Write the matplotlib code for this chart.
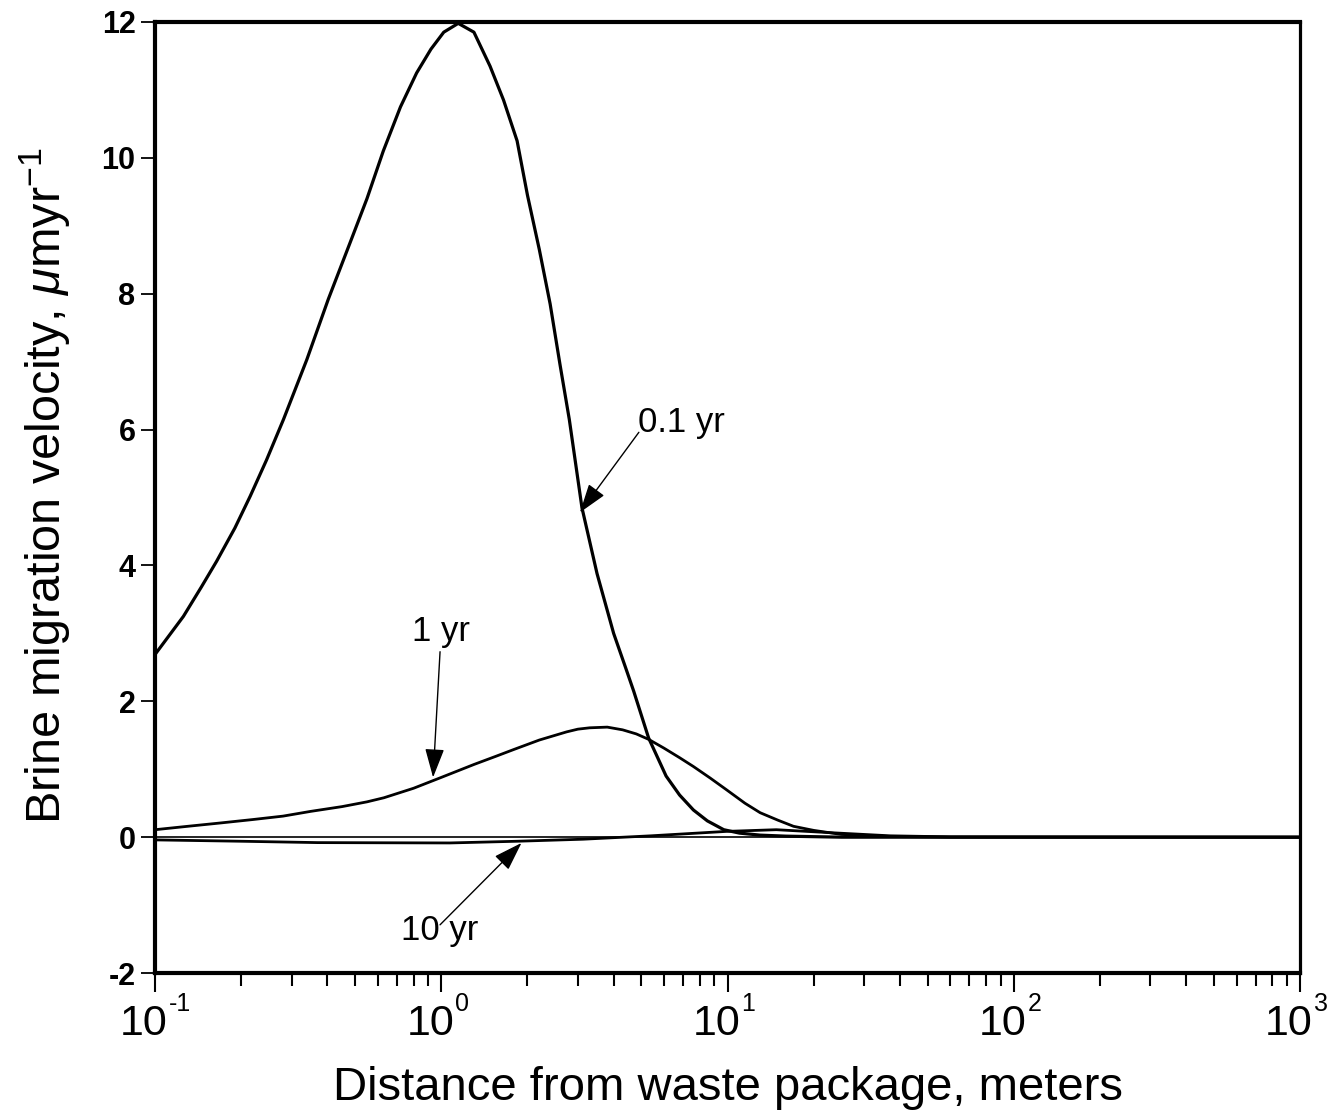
import matplotlib
matplotlib.use("Agg")
import matplotlib.pyplot as plt
from matplotlib.ticker import LogLocator, NullFormatter, FixedLocator

plt.rcParams["font.family"] = ["Liberation Sans", "DejaVu Sans"]
plt.rcParams["mathtext.fontset"] = "custom"
plt.rcParams["mathtext.rm"] = "Liberation Sans"
plt.rcParams["mathtext.it"] = "Liberation Sans:italic"

# distance (m) and brine migration velocity (um/yr)
x_01 = [0.1, 0.1256, 0.145, 0.164, 0.19, 0.215, 0.245, 0.281, 0.339, 0.403,
        0.48, 0.55, 0.627, 0.72, 0.82, 0.92, 1.02, 1.146, 1.3, 1.48, 1.65,
        1.84, 2.0, 2.2, 2.4, 2.6, 2.8, 3.1, 3.5, 4.0, 4.4, 4.7, 5.3, 6.1,
        6.8, 7.6, 8.5, 9.7, 11, 13, 16, 25, 1000]
v_01 = [2.69, 3.25, 3.68, 4.06, 4.55, 5.02, 5.55, 6.15, 7.03, 7.92,
        8.75, 9.4, 10.1, 10.75, 11.25, 11.6, 11.85, 11.98, 11.85, 11.35, 10.85,
        10.25, 9.45, 8.65, 7.85, 6.95, 6.15, 4.85, 3.88, 3.0, 2.5, 2.15, 1.46, 0.90,
        0.62, 0.40, 0.24, 0.11, 0.06, 0.03, 0.015, 0.0, 0.0]

x_1 = [0.1, 0.13, 0.17, 0.22, 0.28, 0.35, 0.45, 0.55, 0.63, 0.8, 1.0, 1.3,
       1.55, 1.79, 2.2, 2.74, 3.0, 3.3, 3.8, 4.3, 4.8, 5.3, 6.0, 6.8, 7.6,
       8.7, 9.9, 11.5, 13, 15, 17, 20, 25, 37, 60, 1000]
v_1 = [0.11, 0.16, 0.21, 0.26, 0.31, 0.38, 0.45, 0.52, 0.58, 0.72, 0.88, 1.07,
       1.19, 1.29, 1.43, 1.55, 1.59, 1.61, 1.62, 1.58, 1.52, 1.44, 1.31, 1.17, 1.04,
       0.87, 0.70, 0.50, 0.36, 0.25, 0.16, 0.10, 0.04, 0.01, 0.0, 0.0]

x_10 = [0.1, 0.2, 0.37, 1.07, 1.84, 3.13, 5.4, 9.9, 14.8, 22, 37, 60, 1000]
v_10 = [-0.04, -0.06, -0.08, -0.085, -0.06, -0.03, 0.02, 0.085, 0.11, 0.07,
        0.02, 0.005, 0.0]

yticks = [-2, 0, 2, 4, 6, 8, 10, 12]
xticks = [0.1, 1, 10, 100, 1000]
xexponents = ["-1", "0", "1", "2", "3"]

fig = plt.figure(figsize=(13.39, 11.16), dpi=100)
ax = fig.add_axes([0.1158, 0.1281, 0.8551, 0.8522])

ax.axhline(0, color="black", lw=1.2)
ax.plot(x_01, v_01, color="black", lw=2.3)
ax.plot(x_1, v_1, color="black", lw=2.0)
ax.plot(x_10, v_10, color="black", lw=2.0)

ax.set_xscale("log")
ax.set_xlim(0.1, 1000)
ax.set_ylim(-2, 12)

ax.xaxis.set_major_locator(FixedLocator(xticks))
ax.set_xticklabels([])
ax.xaxis.set_minor_locator(LogLocator(base=10, subs=range(2, 10), numticks=20))
ax.xaxis.set_minor_formatter(NullFormatter())
ax.set_yticks(yticks)
ax.set_yticklabels([str(t) for t in yticks], fontsize=22, fontweight="bold")

# decade labels: large "10" with a small raised exponent
for xt, ex in zip(xticks, xexponents):
    ax.annotate("10", xy=(xt, 0), xycoords=("data", "axes fraction"),
                xytext=(-8, -22), textcoords="offset points", ha="center",
                va="top", fontsize=31)
    ax.annotate(ex, xy=(xt, 0), xycoords=("data", "axes fraction"),
                xytext=(10, -13.5), textcoords="offset points", ha="left",
                va="top", fontsize=18)

ax.tick_params(axis="x", which="major", direction="out", length=14, width=1.5,
               top=False)
ax.tick_params(axis="x", which="minor", direction="out", length=9.5, width=1.5,
               top=False)
ax.tick_params(axis="y", direction="out", length=10, width=1.3, pad=4,
               right=False)

for side in ["left", "bottom", "top"]:
    ax.spines[side].set_linewidth(3.0)
ax.spines["right"].set_linewidth(2.3)

ax.set_xlabel("Distance from waste package, meters", fontsize=34)
ax.xaxis.set_label_coords(0.5, -0.098)
ax.set_ylabel(r"Brine migration velocity, $\mu$myr$^{-1}$", fontsize=35)
ax.yaxis.set_label_coords(-0.072, 0.513)

arrow = dict(arrowstyle="-|>,head_length=0.9,head_width=0.3", color="black",
             lw=1.0, mutation_scale=20, shrinkA=0, shrinkB=0)
ax.annotate("", xy=(3.05, 4.78), xytext=(4.9, 5.96), arrowprops=arrow)
ax.text(4.87, 5.96, "0.1 yr", fontsize=25, ha="left", va="baseline")
ax.annotate("", xy=(0.936, 0.88), xytext=(0.99, 2.73), arrowprops=arrow)
ax.text(1.0, 2.89, "1 yr", fontsize=25, ha="center", va="baseline")
ax.annotate("", xy=(1.906, -0.085), xytext=(0.99, -1.29), arrowprops=arrow)
ax.text(0.99, -1.51, "10 yr", fontsize=25, ha="center", va="baseline")

fig.savefig("out.png", dpi=100)
